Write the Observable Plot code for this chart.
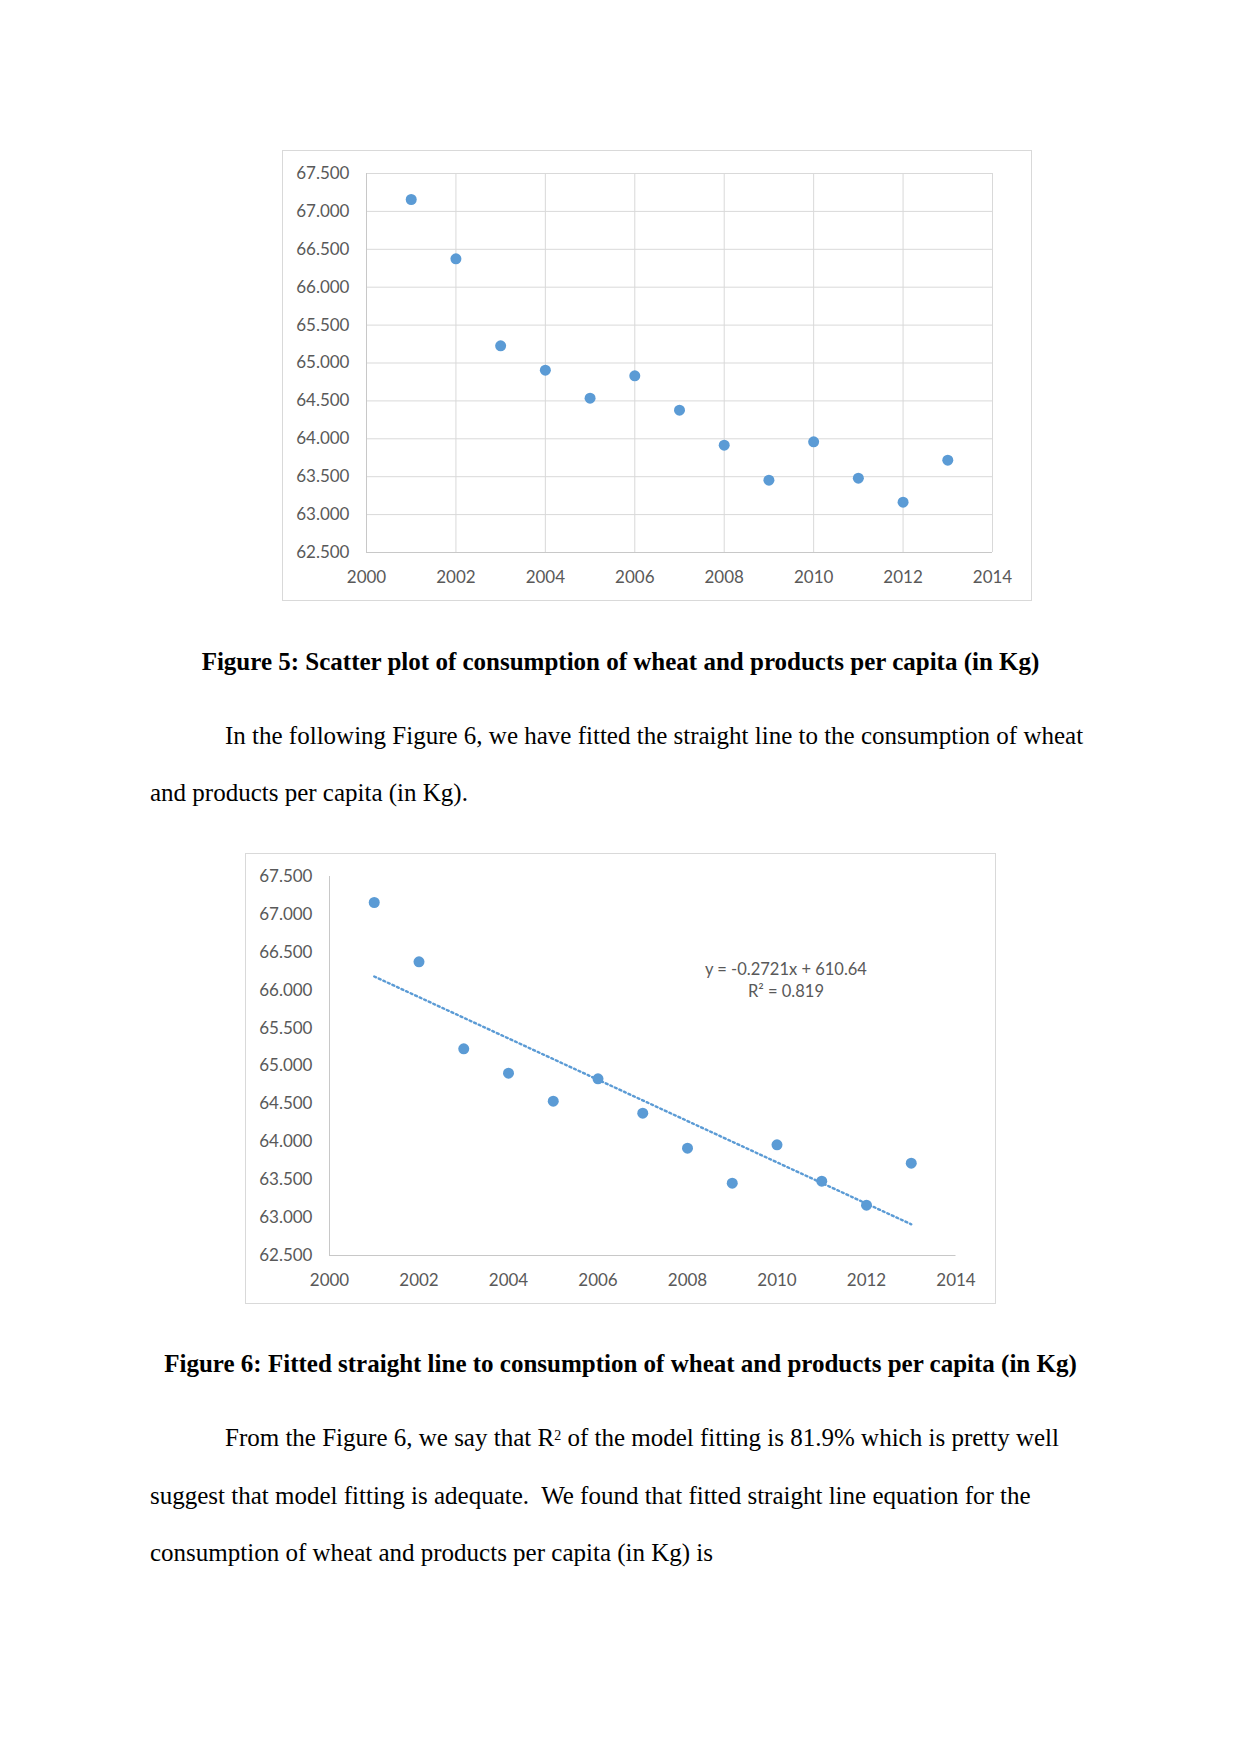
<!DOCTYPE html>
<html><head><meta charset="utf-8">
<script src="https://cdn.jsdelivr.net/npm/d3@7"></script>
<script src="https://cdn.jsdelivr.net/npm/@observablehq/plot@0.6"></script>
<style>
body{margin:0;background:#fff;}
#page{position:relative;width:1241px;height:1754px;font-family:"Liberation Serif","Times New Roman",serif;color:#000;overflow:hidden;}
.t{position:absolute;font-size:25px;line-height:30px;white-space:nowrap;}
.cap{font-weight:bold;left:0;width:1241px;text-align:center;}
.chart{position:absolute;border:1px solid #d9d9d9;box-sizing:border-box;background:#fff;}
.chart svg{display:block;}
sup{font-size:14px;vertical-align:top;position:relative;top:-2px;}
</style></head>
<body><div id="page">
<div id="c1" class="chart" style="left:282px;top:150px;width:750px;height:451px"></div>
<div class="t cap" style="top:647px">Figure 5: Scatter plot of consumption of wheat and products per capita (in Kg)</div>
<div class="t" style="left:225px;top:721px">In the following Figure 6, we have fitted the straight line to the consumption of wheat</div>
<div class="t" style="left:150px;top:778px">and products per capita (in Kg).</div>
<div id="c2" class="chart" style="left:245px;top:853px;width:751px;height:451px"></div>
<div class="t cap" style="top:1349px">Figure 6: Fitted straight line to consumption of wheat and products per capita (in Kg)</div>
<div class="t" style="left:225px;top:1423px">From the Figure 6, we say that R<sup>2</sup> of the model fitting is 81.9% which is pretty well</div>
<div class="t" style="left:150px;top:1481px">suggest that model fitting is adequate.&nbsp; We found that fitted straight line equation for the</div>
<div class="t" style="left:150px;top:1538px">consumption of wheat and products per capita (in Kg) is</div>
</div>
<script>
// Data
const years = [2001, 2002, 2003, 2004, 2005, 2006, 2007, 2008, 2009, 2010, 2011, 2012, 2013];
const consumption = [67.157, 66.374, 65.227, 64.906, 64.536, 64.831, 64.378, 63.916, 63.454, 63.960, 63.481, 63.164, 63.718];
const xTicks = [2000, 2002, 2004, 2006, 2008, 2010, 2012, 2014];
const yTicks = [62.5, 63.0, 63.5, 64.0, 64.5, 65.0, 65.5, 66.0, 66.5, 67.0, 67.5];
const equationLines = ["y = -0.2721x + 610.64", "R² = 0.819"];
const equationX = [2010.2, 2010.2];
const equationY = [66.27, 65.98];

const data = years.map((y, i) => ({year: y, value: consumption[i]}));
const eq = equationLines.map((t, i) => ({text: t, x: equationX[i], y: equationY[i]}));

const blue = "#5b9bd5";
const labelColor = "#595959";
const gridColor = "#d9d9d9";

function base(extraMarks, grid, w, mr) {
  return Plot.plot({
    width: w, height: 449,
    marginLeft: 83, marginRight: mr, marginTop: 22, marginBottom: 48,
    style: {fontFamily: "Lato, 'Open Sans', sans-serif", fontSize: "17px", color: labelColor, background: "transparent", overflow: "visible"},
    x: {domain: [2000, 2014], label: null},
    y: {domain: [62.5, 67.5], label: null},
    marks: [
      ...(grid ? [
        Plot.gridX(xTicks, {stroke: gridColor, strokeOpacity: 1, strokeWidth: 1}),
        Plot.gridY(yTicks, {stroke: gridColor, strokeOpacity: 1, strokeWidth: 1})
      ] : []),
      Plot.ruleX([2000], {y1: 62.5, y2: 67.5, stroke: "#c8c8c8", strokeWidth: 1}),
      Plot.ruleY([62.5], {x1: 2000, x2: 2014, stroke: "#c8c8c8", strokeWidth: 1}),
      Plot.axisX({ticks: xTicks, tickFormat: d => String(d), tickSize: 0, tickPadding: 18, fill: labelColor, fontSize: 17}),
      Plot.axisY({ticks: yTicks, tickFormat: d3.format(".3f"), tickSize: 0, tickPadding: 17, fill: labelColor, fontSize: 17}),
      ...extraMarks,
      Plot.dot(data, {x: "year", y: "value", r: 5.5, fill: blue, stroke: "none"})
    ]
  });
}

document.getElementById("c1").appendChild(base([], true, 748, 39));

document.getElementById("c2").appendChild(base([
  Plot.linearRegressionY(data, {x: "year", y: "value", ci: 0, stroke: blue, strokeWidth: 2.4, strokeDasharray: "2,3"}),
  Plot.text(eq, {x: "x", y: "y", text: "text", fill: labelColor, fontSize: 16.5, textAnchor: "middle"})
], false, 749, 39.5));
</script>
</body></html>
